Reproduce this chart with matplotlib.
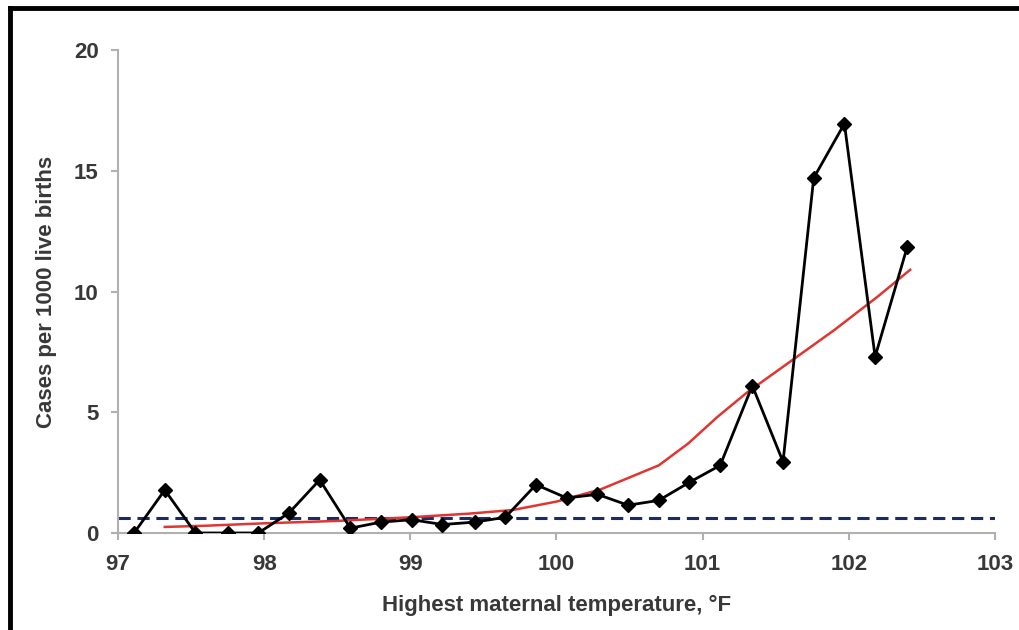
import matplotlib.pyplot as plt
from matplotlib.lines import Line2D

plt.rcParams['font.family'] = ['Liberation Sans', 'DejaVu Sans']

# observed rate per maternal temperature bin
temp = [97.11, 97.32, 97.53, 97.75, 97.96, 98.17, 98.38, 98.59, 98.80, 99.01,
        99.22, 99.44, 99.65, 99.86, 100.07, 100.28, 100.49, 100.70, 100.91,
        101.12, 101.34, 101.55, 101.76, 101.97, 102.18, 102.40]
cases = [0.0, 1.78, 0.0, 0.0, 0.0, 0.83, 2.2, 0.2, 0.45, 0.55,
         0.35, 0.45, 0.65, 2.0, 1.45, 1.6, 1.15, 1.35, 2.1,
         2.8, 6.1, 2.95, 14.7, 16.95, 7.3, 11.85]

# smoothed fit (red)
fit_x = [97.32, 97.6, 98.0, 98.5, 99.0, 99.4, 99.7, 100.0, 100.3, 100.5,
         100.7, 100.9, 101.1, 101.3, 101.6, 101.9, 102.2, 102.42]
fit_y = [0.25, 0.3, 0.4, 0.5, 0.65, 0.8, 0.95, 1.3, 1.8, 2.3,
         2.8, 3.7, 4.8, 5.8, 7.1, 8.4, 9.8, 10.9]

baseline = 0.6

text_col = '#383838'
axis_col = '#b0b0b0'
fs = 16

fig = plt.figure(figsize=(10.19, 6.30), dpi=100)
ax = fig.add_axes([0.1158, 0.154, 0.8606, 0.7666])

ax.axhline(baseline, color='#1f2b5e', lw=2.2, ls=(0, (4, 2.2)), zorder=1)
ax.plot(fit_x, fit_y, color='#e03530', lw=1.8, zorder=2)
ax.plot(temp, cases, color='black', lw=2.0, marker='D', ms=7, zorder=3)

ax.set_xlim(97, 103)
ax.set_ylim(0, 20)
ax.set_xticks([97, 98, 99, 100, 101, 102, 103])
ax.set_yticks([0, 5, 10, 15, 20])

for s in ['top', 'right']:
    ax.spines[s].set_visible(False)
for s in ['left', 'bottom']:
    ax.spines[s].set_color(axis_col)
    ax.spines[s].set_linewidth(1.5)
ax.tick_params(axis='both', colors=axis_col, length=5, width=1.5,
               labelcolor=text_col, labelsize=fs)
ax.tick_params(axis='x', pad=10)
ax.tick_params(axis='y', pad=9)
for lab in ax.get_xticklabels() + ax.get_yticklabels():
    lab.set_fontweight('bold')

ax.set_xlabel('Highest maternal temperature, °F', fontsize=fs, fontweight='bold',
              color=text_col, va='center')
ax.set_ylabel('Cases per 1000 live births', fontsize=fs, fontweight='bold',
              color=text_col, va='center')
ax.xaxis.set_label_coords(0.5, -0.151)
ax.yaxis.set_label_coords(-0.082, 0.5)

# black frame at top and left of the picture
fig.add_artist(Line2D([0.0098, 1.0], [0.9873, 0.9873], color='black', lw=3.5,
                      transform=fig.transFigure))
fig.add_artist(Line2D([0.0098, 0.0098], [0.0, 0.9873], color='black', lw=3.5,
                      transform=fig.transFigure))

fig.savefig('out.png', dpi=100)
